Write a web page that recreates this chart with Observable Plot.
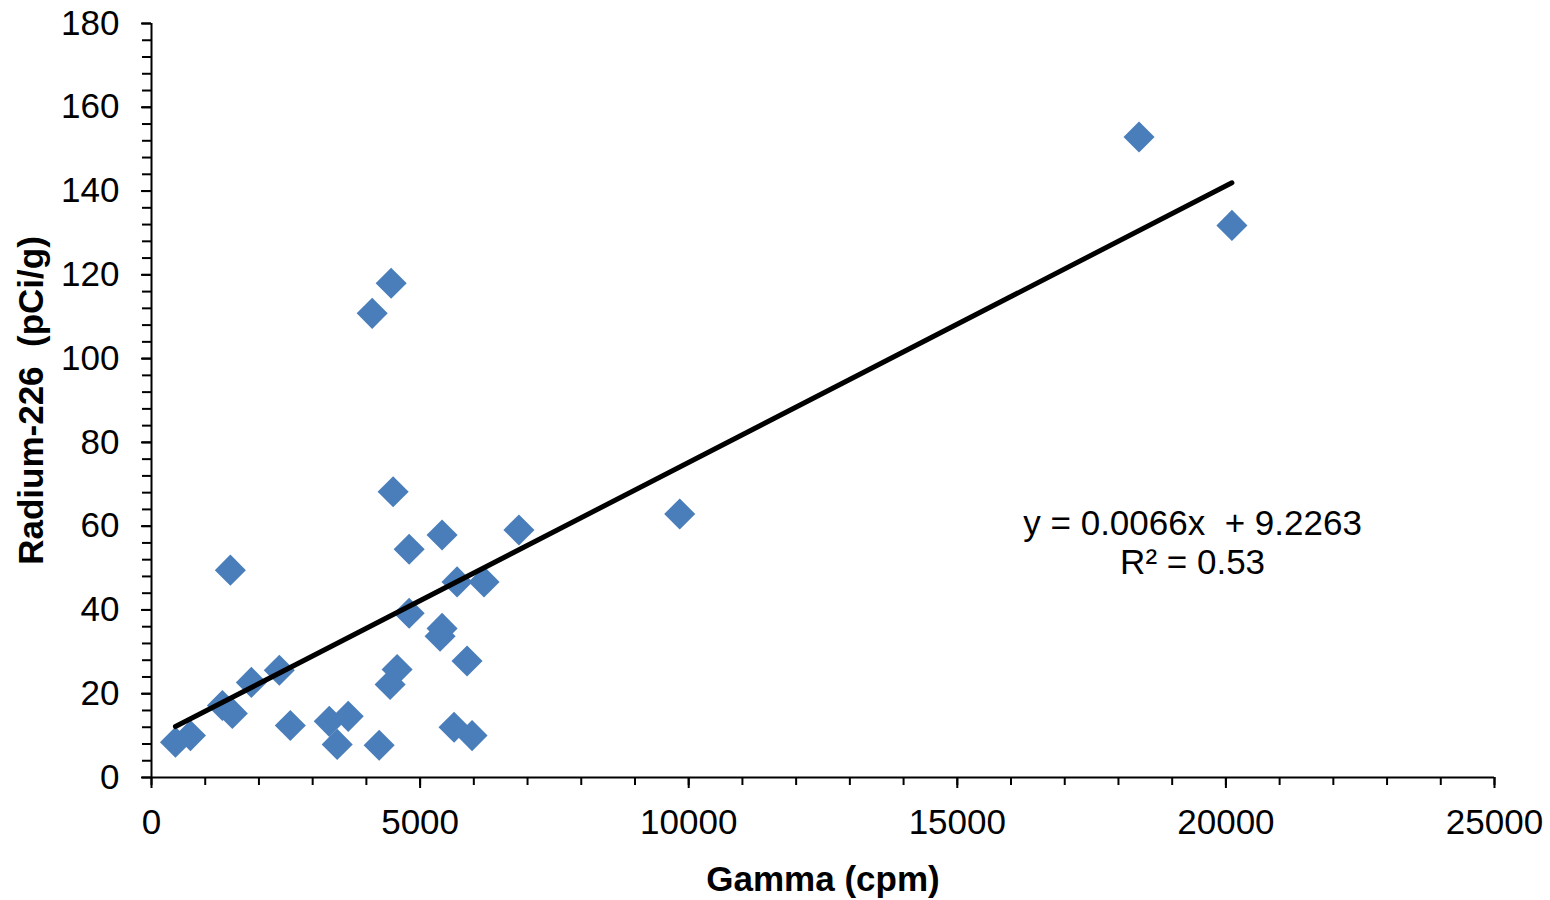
<!DOCTYPE html>
<html><head><meta charset="utf-8">
<script src="https://cdn.jsdelivr.net/npm/d3@7"></script>
<script src="https://cdn.jsdelivr.net/npm/@observablehq/plot@0.6"></script>
<style>body{margin:0;background:#fff}#chart{width:1550px;height:900px}</style>
</head><body><div id="chart"></div>
<script>
// Data
const gamma  = [446, 725, 1468, 1320, 1505, 1859, 2379, 2584, 3309, 3457, 3662, 4238, 4108, 4461, 4498, 4442, 4572, 4796, 4796, 5409, 5372, 5409, 5688, 6190, 5874, 5632, 5967, 6840, 9833, 18383, 20112];
const radium = [8.4, 10, 49.5, 17.2, 15.3, 22.7, 25.6, 12.4, 13.4, 7.9, 14.6, 7.7, 110.8, 118, 68.2, 22.2, 25.8, 54.5, 39.2, 57.9, 33.7, 35.6, 46.7, 46.7, 27.8, 12, 10, 59.1, 62.9, 152.9, 131.8];
const slope = 0.0066;
const intercept = 9.2263;
const equationText = "y = 0.0066x\u00a0 + 9.2263";
const r2Text = "R² = 0.53";
const xMajorTicks = [0, 5000, 10000, 15000, 20000, 25000];
const xMinorTicks = d3.range(0, 25001, 1000);
const yMajorTicks = [0, 20, 40, 60, 80, 100, 120, 140, 160, 180];
const yMinorTicks = d3.range(0, 181, 4);
const xTitle = "Gamma (cpm)";
const yTitle = "Radium-226\u00a0 (pCi/g)";

const points = gamma.map((g, i) => ({gamma: g, radium: radium[i]}));
const xExt = d3.extent(gamma);
const trend = xExt.map(x => ({gamma: x, radium: slope * x + intercept}));

const font = "'Liberation Sans', Arial, Helvetica, sans-serif";
const blank = () => "";

const chart = Plot.plot({
  width: 1550,
  height: 900,
  marginLeft: 151,
  marginRight: 56,
  marginTop: 23,
  marginBottom: 123,
  style: {fontFamily: font, fontSize: "35px", color: "#000", background: "#fff", overflow: "visible"},
  x: {domain: [0, 25000]},
  y: {domain: [0, 180]},
  marks: [
    Plot.axisX({ticks: xMinorTicks, tickSize: 8, strokeWidth: 2, tickFormat: blank, label: null}),
    Plot.axisX({ticks: xMajorTicks, tickSize: 11, tickPadding: 21, strokeWidth: 2, tickFormat: d => String(d), label: null, fontSize: 35}),
    Plot.axisY({ticks: yMinorTicks, tickSize: 9, strokeWidth: 2, tickFormat: blank, label: null}),
    Plot.axisY({ticks: yMajorTicks, tickSize: 10, tickPadding: 22, strokeWidth: 2, tickFormat: d => String(d), label: null, fontSize: 35}),
    Plot.ruleY([0], {stroke: "#000", strokeWidth: 2}),
    Plot.ruleX([0], {stroke: "#000", strokeWidth: 2}),
    Plot.dot(points, {x: "gamma", y: "radium", symbol: "diamond2", r: 14, fill: "#4A7EBB", stroke: null}),
    Plot.line(trend, {x: "gamma", y: "radium", stroke: "#000", strokeWidth: 5, strokeLinecap: "round"}),
    Plot.text([equationText], {x: 19380, y: 57.8, lineAnchor: "bottom", textAnchor: "middle", fontSize: 35}),
    Plot.text([r2Text], {x: 19380, y: 48.7, lineAnchor: "bottom", textAnchor: "middle", fontSize: 35}),
    Plot.text([xTitle], {frameAnchor: "bottom", dy: 113, lineAnchor: "bottom", textAnchor: "middle", fontWeight: "bold", fontSize: 35}),
    Plot.text([yTitle], {frameAnchor: "left", dx: -119.5, rotate: -90, lineAnchor: "middle", textAnchor: "middle", fontWeight: "bold", fontSize: 35})
  ]
});
document.getElementById("chart").append(chart);
</script>
</body></html>
